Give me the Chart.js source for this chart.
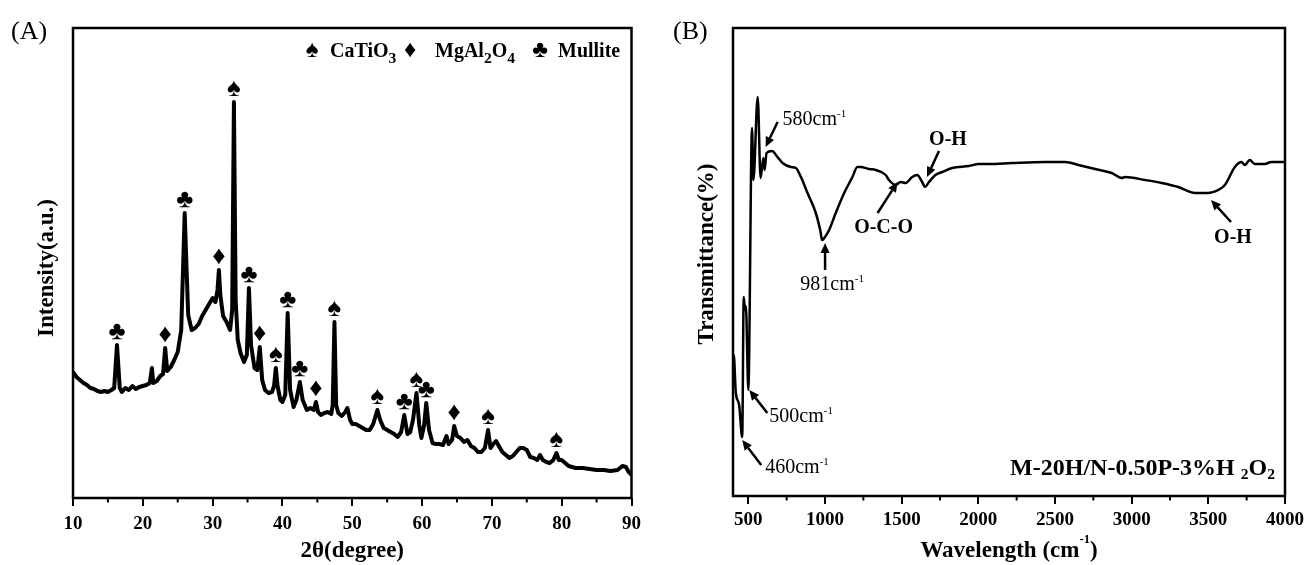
<!DOCTYPE html>
<html>
<head>
<meta charset="utf-8">
<script src="https://cdn.jsdelivr.net/npm/chart.js@4.4.0/dist/chart.umd.min.js"></script>
<style>
  html, body { margin: 0; padding: 0; background: #fff; }
  #wrap { position: relative; width: 1309px; height: 565px; }
  #wrap canvas { position: absolute; top: 0; }
  #xrd { left: 0; }
  #ftir { left: 655px; }
</style>
</head>
<body>
<div id="wrap">
  <canvas id="xrd" width="655" height="565"></canvas>
  <canvas id="ftir" width="654" height="565"></canvas>
</div>
<script>
/* ---------- (A) XRD pattern ---------- */
const xrdAngle = [
  10.0, 10.5, 11.0, 11.5, 12.0, 12.5, 13.0, 13.5, 14.0, 14.5, 15.0, 15.5, 15.9, 16.3, 16.7,
  17.0, 17.5, 18.0, 18.5, 19.0, 19.5, 20.0, 20.5, 21.0, 21.3, 21.5, 22.0, 22.5, 22.9, 23.2,
  23.5, 24.0, 24.5, 25.0, 25.5, 25.8, 26.0, 26.2, 26.5, 27.0, 27.5, 28.0, 28.5, 29.0, 29.5,
  30.0, 30.4, 30.7, 30.9, 31.1, 31.5, 32.0, 32.5, 32.8, 33.05, 33.3, 33.6, 34.0, 34.5, 34.9,
  35.2, 35.5, 36.0, 36.4, 36.75, 37.1, 37.5, 38.0, 38.5, 38.8, 39.05, 39.3, 39.7, 40.0, 40.4,
  40.75, 41.1, 41.6, 42.0, 42.5, 42.9, 43.5, 44.0, 44.5, 44.8, 45.1, 45.5, 46.0, 46.5, 47.0,
  47.2, 47.45, 47.7, 48.0, 48.5, 49.0, 49.3, 49.7, 50.0, 50.5, 51.0, 51.5, 52.0, 52.5, 53.0,
  53.6, 54.0, 54.5, 55.0, 55.5, 56.0, 56.5, 57.0, 57.45, 57.9, 58.3, 58.7, 59.2, 59.6, 59.9,
  60.3, 60.6, 61.0, 61.5, 62.0, 62.5, 63.0, 63.5, 63.8, 64.3, 64.6, 65.0, 65.5, 66.0, 66.5,
  67.0, 67.5, 68.0, 68.5, 69.0, 69.45, 69.8, 70.2, 70.6, 71.0, 71.5, 72.0, 72.5, 73.0, 73.5,
  74.0, 74.5, 75.0, 75.5, 76.0, 76.5, 76.9, 77.3, 77.8, 78.3, 78.8, 79.25, 79.6, 80.0, 80.5,
  81.0, 82.0, 83.0, 84.0, 85.0, 86.0, 87.0, 88.0, 88.7, 89.2, 89.6, 90.0
];
const xrdIntensity = [
  126, 121, 118, 115, 113, 110, 109, 107, 106, 107, 106, 108, 110, 153, 110,
  106, 110, 108, 112, 109, 111, 112, 113, 115, 130, 115, 117, 122, 124, 150,
  127, 131, 138, 146, 168, 238, 285, 243, 183, 168, 170, 174, 182, 188, 194,
  200, 196, 208, 228, 203, 182, 176, 168, 188, 396, 198, 158, 145, 136, 143,
  210, 153, 130, 128, 151, 118, 108, 105, 106, 112, 130, 112, 98, 96, 103,
  185, 108, 91, 98, 116, 98, 88, 90, 88, 96, 86, 83, 85, 86, 84,
  93, 176, 93, 85, 82, 86, 90, 78, 74, 74, 72, 70, 68, 68, 74,
  88, 78, 70, 68, 66, 64, 61, 66, 83, 64, 66, 78, 105, 73, 60,
  73, 95, 68, 55, 54, 54, 53, 62, 54, 58, 72, 62, 60, 56, 58,
  52, 50, 46, 46, 50, 68, 50, 54, 57, 52, 46, 43, 40, 42, 46,
  50, 50, 48, 41, 40, 38, 43, 38, 36, 35, 38, 45, 38, 38, 35,
  32, 30, 30, 29, 28, 28, 27, 28, 32, 31, 26, 23
];
const xrdTicks = [10, 20, 30, 40, 50, 60, 70, 80, 90];
const xrdMinorTicks = [15, 25, 35, 45, 55, 65, 75, 85];

// indexed peaks: S = CaTiO3, D = MgAl2O4, C = Mullite
const peakAngle = [16.3, 23.2, 26.0, 30.9, 33.05, 35.2, 36.75, 39.05, 40.75, 42.5,
  44.8, 47.45, 53.6, 57.45, 59.2, 60.6, 64.6, 69.45, 79.25];
const peakPhase = ['C', 'D', 'C', 'D', 'S', 'C', 'D', 'S', 'C', 'C',
  'D', 'S', 'S', 'C', 'S', 'C', 'D', 'S', 'S'];
const phaseKeys = ['S', 'D', 'C'];
const phaseSymbols = ['\u2660', '\u2666', '\u2663'];
const phaseLabels = [
  [['CaTiO', ''], ['3', 'sub']],
  [['MgAl', ''], ['2', 'sub'], ['O', ''], ['4', 'sub']],
  [['Mullite', '']]
];

/* ---------- (B) FTIR spectrum ---------- */
const ftirWavenumber = [
  400, 405, 418, 440, 460, 470, 478, 484, 500, 524, 533, 561, 580, 598, 606,
  619, 654, 690, 723, 778, 810, 843, 886, 940, 970, 981, 1000, 1027, 1070, 1125,
  1179, 1211, 1233, 1287, 1331, 1396, 1417, 1461, 1493, 1526, 1569, 1601, 1634, 1652, 1678,
  1720, 1764, 1829, 1938, 2003, 2068, 2220, 2437, 2567, 2653, 2762, 2870, 2935, 2957, 3087,
  3196, 3304, 3413, 3499, 3564, 3608, 3673, 3716, 3738, 3770, 3803, 3868, 3911, 4000
];
const ftirTransmittance = [
  111, 141, 104, 91, 59, 199, 186, 190, 106, 368, 316, 399, 318, 338, 326,
  343, 345, 339, 333, 329, 328, 319, 303, 283, 265, 256, 259, 266, 283, 303,
  319, 329, 329, 327, 326, 321, 316, 311, 314, 313, 319, 321, 314, 309, 314,
  321, 324, 328, 330, 332, 332, 333, 334, 334, 331, 327, 323, 318, 319, 316,
  313, 309, 303, 303, 306, 311, 329, 334, 331, 336, 332, 332, 334, 334
];
const ftirTicks = [500, 1000, 1500, 2000, 2500, 3000, 3500, 4000];
const ftirMinorTicks = [750, 1250, 1750, 2250, 2750, 3250, 3750];

const SERIF = '"Liberation Serif", "Times New Roman", serif';

// draws text pieces with sub/superscripts, y is the baseline
function drawRich(ctx, parts, x, y, size, weight, align, o = {}) {
  const subScale = o.subScale || 0.65, subShift = o.subShift || 0.3;
  const supScale = o.supScale || 0.55, supShift = o.supShift || 0.42;
  const pieces = parts.map(([t, k]) => {
    const s = k === 'sub' ? size * subScale : k === 'sup' ? size * supScale : size;
    ctx.font = `${weight} ${s}px ${SERIF}`;
    return { t, k, s, w: ctx.measureText(t).width };
  });
  const total = pieces.reduce((a, p) => a + p.w, 0);
  let cx = align === 'center' ? x - total / 2 : align === 'right' ? x - total : x;
  ctx.textAlign = 'left';
  ctx.textBaseline = 'alphabetic';
  pieces.forEach(p => {
    ctx.font = `${weight} ${p.s}px ${SERIF}`;
    const dy = p.k === 'sub' ? size * subShift : p.k === 'sup' ? -size * supShift : 0;
    ctx.fillText(p.t, cx, y + dy);
    cx += p.w;
  });
  return total;
}

function drawArrow(ctx, x1, y1, x2, y2) {
  const ang = Math.atan2(y2 - y1, x2 - x1);
  const hl = 10, hw = 4.5;
  const bx = x2 - hl * Math.cos(ang), by = y2 - hl * Math.sin(ang);
  ctx.beginPath(); ctx.moveTo(x1, y1); ctx.lineTo(bx, by); ctx.stroke();
  ctx.beginPath();
  ctx.moveTo(x2, y2);
  ctx.lineTo(bx + hw * Math.sin(ang), by - hw * Math.cos(ang));
  ctx.lineTo(bx - hw * Math.sin(ang), by + hw * Math.cos(ang));
  ctx.closePath(); ctx.fill();
}

// box around the plot, short minor ticks, panel letter and axis titles
const framePlugin = {
  id: 'frame',
  afterDraw(chart, args, opts) {
    const { ctx, chartArea: a, scales: { x } } = chart;
    ctx.save();
    ctx.strokeStyle = '#000';
    ctx.fillStyle = '#000';
    ctx.lineWidth = 2.5;
    ctx.strokeRect(a.left, a.top, a.right - a.left, a.bottom - a.top);
    ctx.lineWidth = 2;
    opts.minor.forEach(v => {
      const px = x.getPixelForValue(v);
      ctx.beginPath(); ctx.moveTo(px, a.bottom); ctx.lineTo(px, a.bottom + 4.5); ctx.stroke();
    });
    drawRich(ctx, [[opts.panel, '']], opts.panelX, 39, 26, 'normal', 'left');
    drawRich(ctx, opts.xTitle, (a.left + a.right) / 2, 557, 23, 'bold', 'center', { supScale: 0.55, supShift: 0.62 });
    ctx.save();
    ctx.translate(opts.yTitleX, opts.yTitleY);
    ctx.rotate(-Math.PI / 2);
    drawRich(ctx, opts.yTitle, 0, 0, 23, 'bold', 'center');
    ctx.restore();
    ctx.restore();
  }
};

const xrdMarks = {
  id: 'xrdMarks',
  afterDatasetsDraw(chart) {
    const { ctx, scales: { x, y } } = chart;
    ctx.save();
    ctx.fillStyle = '#000';
    ctx.textAlign = 'center';
    ctx.textBaseline = 'alphabetic';
    ctx.font = `26px ${SERIF}`;
    peakAngle.forEach((ang, i) => {
      const top = xrdIntensity[xrdAngle.indexOf(ang)];
      const sym = phaseSymbols[phaseKeys.indexOf(peakPhase[i])];
      ctx.fillText(sym, x.getPixelForValue(ang), y.getPixelForValue(top) - 6);
    });
    // phase key, top right
    const symX = [312, 410, 540];
    const textX = [330, 435, 558];
    phaseSymbols.forEach((s, i) => {
      ctx.font = `24px ${SERIF}`;
      ctx.textAlign = 'center';
      ctx.fillText(s, symX[i], 57);
      drawRich(ctx, phaseLabels[i], textX[i], 57, 20, 'bold', 'left', { subScale: 0.78, subShift: 0.3 });
    });
    ctx.restore();
  }
};

const ftirNotes = [
  { parts: [['580cm', ''], ['-1', 'sup']], at: 580, weight: 'normal', tip: [5, -31], tail: [17, -56], label: [22, -53], align: 'left' },
  { parts: [['981cm', ''], ['-1', 'sup']], at: 981, weight: 'normal', tip: [3, 3], tail: [3, 30], label: [10, 50], align: 'center' },
  { parts: [['O-C-O', '']], at: 1493, weight: 'bold', tip: [-3, 0], tail: [-23, 31], label: [-17, 51], align: 'center' },
  { parts: [['O-H', '']], at: 1652, weight: 'bold', tip: [2, -10], tail: [14, -36], label: [23, -42], align: 'center' },
  { parts: [['500cm', ''], ['-1', 'sup']], at: 500, weight: 'normal', tip: [1, 0], tail: [19, 23], label: [21, 32], align: 'left' },
  { parts: [['460cm', ''], ['-1', 'sup']], at: 460, weight: 'normal', tip: [0, 3], tail: [19, 28], label: [23, 36], align: 'left' },
  { parts: [['O-H', '']], at: 3413, weight: 'bold', tip: [16, 7], tail: [36, 29], label: [38, 50], align: 'center' }
];

const ftirMarks = {
  id: 'ftirMarks',
  afterDatasetsDraw(chart) {
    const { ctx, chartArea: a, scales: { x, y } } = chart;
    ctx.save();
    ctx.fillStyle = '#000';
    ctx.strokeStyle = '#000';
    ctx.lineWidth = 2.5;
    ftirNotes.forEach(n => {
      const px = x.getPixelForValue(n.at);
      const py = y.getPixelForValue(ftirTransmittance[ftirWavenumber.indexOf(n.at)]);
      drawArrow(ctx, px + n.tail[0], py + n.tail[1], px + n.tip[0], py + n.tip[1]);
      drawRich(ctx, n.parts, px + n.label[0], py + n.label[1], 20, n.weight, n.align);
    });
    drawRich(ctx, [['M-20H/N-0.50P-3%H ', ''], ['2', 'sub'], ['O', ''], ['2', 'sub']],
      a.right - 10, 475, 24, 'bold', 'right', { subScale: 0.65, subShift: 0.15 });
    ctx.restore();
  }
};

function axisOptions(min, max, ticks, box, pad, fontSize) {
  return {
    x: {
      type: 'linear', min, max,
      afterBuildTicks: s => { s.ticks = ticks.map(v => ({ value: v })); },
      afterFit: s => { s.height = box.bottom; },
      grid: { drawOnChartArea: false, tickLength: 8, lineWidth: 2, color: '#000' },
      border: { display: false },
      ticks: { color: '#000', padding: pad, maxRotation: 0, autoSkip: false,
        callback: v => String(v),
        font: { family: SERIF, size: fontSize, weight: 'bold' } }
    },
    y: {
      min: 0, max: box.yMax,
      afterFit: s => { s.width = box.left; },
      grid: { display: false }, border: { display: false }, ticks: { display: false }
    }
  };
}

new Chart(document.getElementById('xrd'), {
  type: 'line',
  data: {
    datasets: [{
      data: xrdAngle.map((a, i) => ({ x: a, y: xrdIntensity[i] })),
      borderColor: '#000', borderWidth: 4, pointRadius: 0, tension: 0, borderJoinStyle: 'round'
    }]
  },
  options: {
    responsive: false, animation: false, events: [],
    layout: { padding: { top: 28, right: 23.5, left: 0, bottom: 0 } },
    plugins: {
      legend: { display: false }, tooltip: { enabled: false },
      frame: { minor: xrdMinorTicks, panel: '(A)', panelX: 11,
        xTitle: [['2\u03b8(degree)', '']], yTitle: [['Intensity(a.u.)', '']], yTitleX: 53, yTitleY: 268 }
    },
    scales: axisOptions(10, 90, xrdTicks, { left: 73, yMax: 470, bottom: 67 }, 7, 19)
  },
  plugins: [framePlugin, xrdMarks]
});

new Chart(document.getElementById('ftir'), {
  type: 'line',
  data: {
    datasets: [{
      data: ftirWavenumber.map((w, i) => ({ x: w, y: ftirTransmittance[i] })),
      borderColor: '#000', borderWidth: 2.5, pointRadius: 0, cubicInterpolationMode: 'monotone'
    }]
  },
  options: {
    responsive: false, animation: false, events: [],
    layout: { padding: { top: 28, right: 22, left: 0, bottom: 0 } },
    plugins: {
      legend: { display: false }, tooltip: { enabled: false },
      frame: { minor: ftirMinorTicks, panel: '(B)', panelX: 18,
        xTitle: [['Wavelength (cm', ''], ['-1', 'sup'], [')', '']], yTitle: [['Transmittance(%)', '']], yTitleX: 58, yTitleY: 254 }
    },
    scales: axisOptions(400, 4000, ftirTicks, { left: 78, yMax: 468, bottom: 69 }, 5, 19)
  },
  plugins: [framePlugin, ftirMarks]
});
</script>
</body>
</html>
